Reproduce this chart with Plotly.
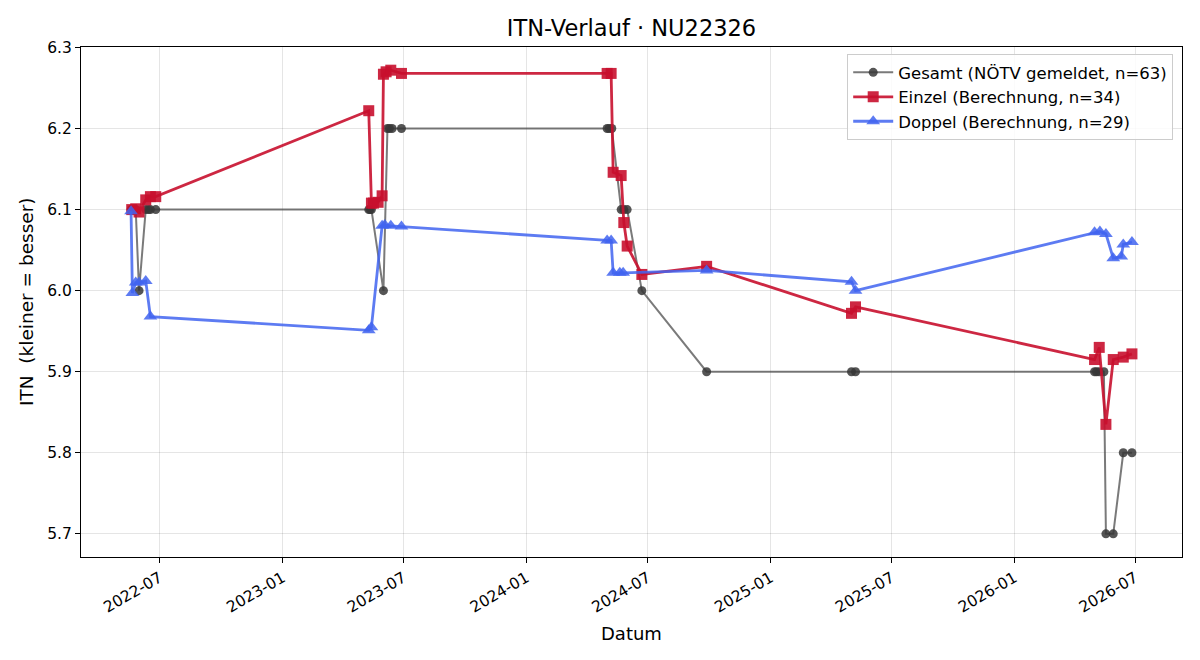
import pandas as pd
import plotly.graph_objects as go

# ---------------- data ----------------
gesamt_dates = [
    "2022-05-19", "2022-05-20", "2022-05-26", "2022-05-31", "2022-06-10", "2022-06-14", "2022-06-17", "2022-06-25",
    "2023-05-10", "2023-05-12", "2023-05-14", "2023-06-01", "2023-06-07", "2023-06-10", "2023-06-14", "2023-06-28",
    "2024-05-01", "2024-05-04", "2024-05-08", "2024-05-22", "2024-05-26", "2024-05-31", "2024-06-22",
    "2024-09-27",
    "2025-05-02", "2025-05-08",
    "2026-05-01", "2026-05-04", "2026-05-08", "2026-05-15", "2026-05-18", "2026-05-29", "2026-06-13", "2026-06-26",
]
gesamt_vals = [
    6.1, 6.1, 6.1, 6.0, 6.1, 6.1, 6.1, 6.1,
    6.1, 6.1, 6.1, 6.0, 6.2, 6.2, 6.2, 6.2,
    6.2, 6.2, 6.2, 6.1, 6.1, 6.1, 6.0,
    5.9,
    5.9, 5.9,
    5.9, 5.9, 5.9, 5.9, 5.7, 5.7, 5.8, 5.8,
]

einzel_dates = [
    "2022-05-20", "2022-05-26", "2022-05-31", "2022-06-10", "2022-06-17", "2022-06-25",
    "2023-05-10", "2023-05-14", "2023-05-17", "2023-05-24", "2023-05-30", "2023-06-01", "2023-06-05", "2023-06-12", "2023-06-28",
    "2024-05-01", "2024-05-07", "2024-05-10", "2024-05-22", "2024-05-26", "2024-05-31", "2024-06-22",
    "2024-09-27",
    "2025-05-02", "2025-05-08",
    "2026-05-01", "2026-05-08", "2026-05-18", "2026-05-29", "2026-06-13", "2026-06-26",
]
einzel_vals = [
    6.100, 6.101, 6.097, 6.112, 6.116, 6.116,
    6.222, 6.108, 6.108, 6.109, 6.117, 6.267, 6.270, 6.272, 6.268,
    6.268, 6.268, 6.146, 6.142, 6.084, 6.055, 6.020,
    6.030,
    5.972, 5.980,
    5.915, 5.930, 5.835, 5.915, 5.918, 5.922,
]

doppel_dates = [
    "2022-05-19", "2022-05-21", "2022-05-26", "2022-05-31", "2022-06-10", "2022-06-17",
    "2023-05-10", "2023-05-14", "2023-05-30", "2023-06-03", "2023-06-12", "2023-06-28",
    "2024-05-01", "2024-05-07", "2024-05-10", "2024-05-20", "2024-05-25",
    "2024-09-27",
    "2025-05-02", "2025-05-08",
    "2026-05-01", "2026-05-09", "2026-05-18", "2026-05-29", "2026-06-10", "2026-06-13", "2026-06-26",
]
doppel_vals = [
    6.098, 5.997, 6.010, 6.010, 6.012, 5.968,
    5.951, 5.955, 6.080, 6.081, 6.080, 6.079,
    6.062, 6.062, 6.022, 6.022, 6.022,
    6.025,
    6.011, 6.000,
    6.072, 6.073, 6.070, 6.040, 6.042, 6.057, 6.060,
]

x_tick_vals = ["2022-07-01", "2023-01-01", "2023-07-01", "2024-01-01", "2024-07-01",
               "2025-01-01", "2025-07-01", "2026-01-01", "2026-07-01"]
x_tick_text = ["2022-07", "2023-01", "2023-07", "2024-01", "2024-07",
               "2025-01", "2025-07", "2026-01", "2026-07"]
y_tick_vals = [5.7, 5.8, 5.9, 6.0, 6.1, 6.2, 6.3]

# ---------------- figure ----------------
FONT = "DejaVu Sans"
fig = go.Figure()

fig.add_trace(go.Scatter(
    x=pd.to_datetime(gesamt_dates), y=gesamt_vals, mode="lines+markers",
    name="Gesamt (NÖTV gemeldet, n=63)",
    line=dict(color="rgba(70,70,70,0.72)", width=2),
    marker=dict(symbol="circle", size=9, color="rgba(55,55,55,0.85)", line=dict(width=0)),
))
fig.add_trace(go.Scatter(
    x=pd.to_datetime(einzel_dates), y=einzel_vals, mode="lines+markers",
    name="Einzel (Berechnung, n=34)",
    line=dict(color="rgba(200,16,46,0.9)", width=2.8),
    marker=dict(symbol="square", size=11, color="rgba(200,16,46,0.9)", line=dict(width=0)),
))
fig.add_trace(go.Scatter(
    x=pd.to_datetime(doppel_dates), y=doppel_vals, mode="lines+markers",
    name="Doppel (Berechnung, n=29)",
    line=dict(color="rgba(65,100,240,0.85)", width=2.8),
    marker=dict(symbol="triangle-up", size=12, color="rgba(65,100,240,0.85)", line=dict(width=0)),
))

all_dates = pd.to_datetime(gesamt_dates + einzel_dates + doppel_dates)
dmin, dmax = all_dates.min(), all_dates.max()
pad = (dmax - dmin) * 0.05
all_vals = gesamt_vals + einzel_vals + doppel_vals
vmin, vmax = min(all_vals), max(all_vals)
vpad = (vmax - vmin) * 0.05

fig.update_layout(
    width=1200, height=660,
    margin=dict(l=81, r=18, t=47, b=103),
    paper_bgcolor="white", plot_bgcolor="white",
    font=dict(family=FONT, size=15.5, color="black"),
    title=dict(text="ITN-Verlauf · NU22326", x=(81 + 1182) / 2 / 1200, xanchor="center",
               y=1 - 28 / 660, yanchor="middle", font=dict(family=FONT, size=22.5)),
    showlegend=True,
    legend=dict(x=0.992, y=0.986, xanchor="right", yanchor="top",
                bgcolor="rgba(255,255,255,0.85)", bordercolor="#cccccc", borderwidth=1,
                font=dict(family=FONT, size=16.5), tracegroupgap=2, itemwidth=40),
)
fig.update_xaxes(
    range=[dmin - pad, dmax + pad], tickmode="array", tickvals=pd.to_datetime(x_tick_vals),
    ticktext=x_tick_text, tickangle=-30, ticks="outside", ticklen=5, tickcolor="black",
    showgrid=True, gridcolor="rgba(0,0,0,0.1)", gridwidth=1,
    showline=True, linecolor="black", linewidth=1, mirror=True, zeroline=False,
    tickfont=dict(family=FONT, size=15.5),
)
fig.update_yaxes(
    range=[vmin - vpad, vmax + vpad], tickmode="array", tickvals=y_tick_vals,
    ticktext=[f"{v:.1f}" for v in y_tick_vals], ticks="outside", ticklen=5, tickcolor="black",
    showgrid=True, gridcolor="rgba(0,0,0,0.1)", gridwidth=1,
    showline=True, linecolor="black", linewidth=1, mirror=True, zeroline=False,
    tickfont=dict(family=FONT, size=15.5),
)
fig.add_annotation(text="Datum", xref="paper", yref="paper", x=0.5, y=-(633 - 557) / 510,
                   xanchor="center", yanchor="middle", showarrow=False,
                   font=dict(family=FONT, size=18))
fig.add_annotation(text="ITN  (kleiner = besser)", xref="paper", yref="paper",
                   x=-(81 - 26) / 1101, y=0.5, xanchor="center", yanchor="middle",
                   textangle=-90, showarrow=False, font=dict(family=FONT, size=18.5))

fig.write_html("out.html")
